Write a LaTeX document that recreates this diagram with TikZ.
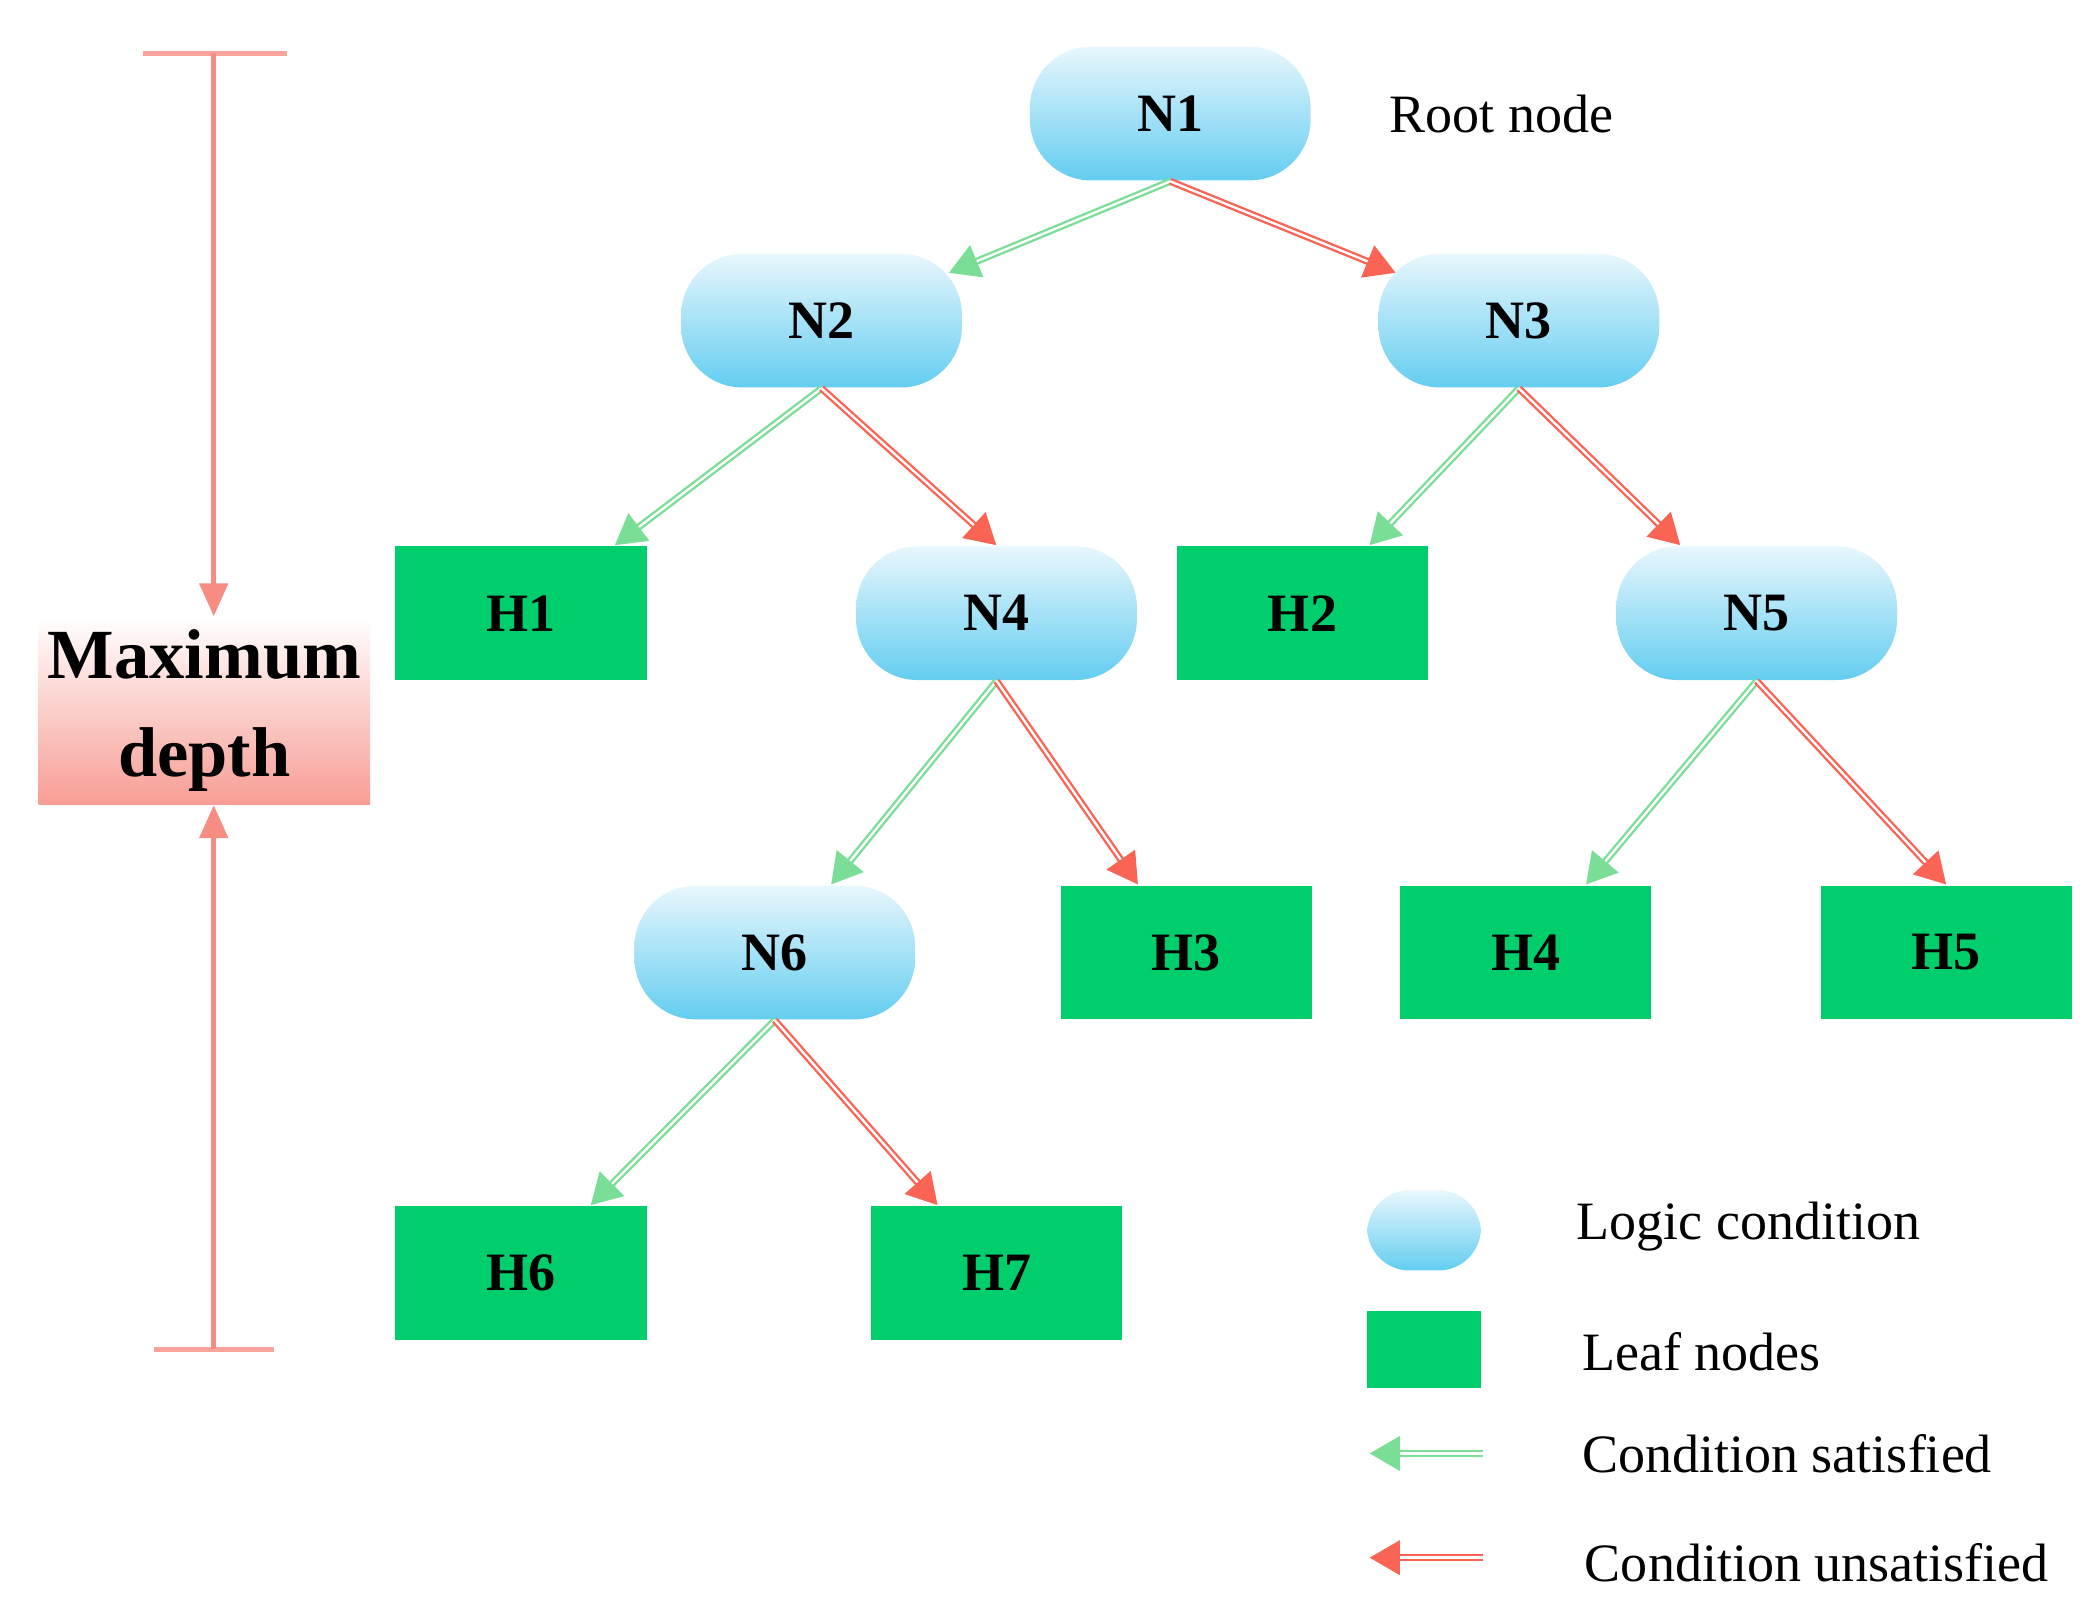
\documentclass[tikz,border=0pt]{standalone}
\usepackage{fontspec}
\setmainfont{Liberation Serif}
\usetikzlibrary{arrows.meta}
\definecolor{leaf}{RGB}{0,206,108}
\definecolor{skyb}{RGB}{100,205,240}
\definecolor{skyt}{RGB}{232,247,253}
\definecolor{gline}{RGB}{122,222,150}
\definecolor{rline}{RGB}{250,100,85}
\definecolor{depth}{RGB}{246,140,130}
\begin{document}
\begin{tikzpicture}[x=0.01cm,y=-0.01cm,
  cond/.style={rectangle,rounded corners=13pt,minimum width=2.1cm,minimum height=1cm,
    top color=skyt,bottom color=skyb,draw=none,font=\bfseries\fontsize{11.5}{14}\selectfont},
  leafn/.style={rectangle,minimum width=1.88cm,minimum height=1cm,fill=leaf,
    font=\bfseries\fontsize{11.5}{14}\selectfont},
  yes/.style={draw=gline,line width=1.5pt,-{Triangle[length=6.5pt,width=7pt]},
    postaction={draw=white,line width=0.5pt,-,shorten >=6.5pt}},
  no/.style={draw=rline,line width=1.5pt,-{Triangle[length=6.5pt,width=7pt]},
    postaction={draw=white,line width=0.5pt,-,shorten >=6.5pt}},
  lbl/.style={anchor=west,font=\fontsize{11.5}{14}\selectfont}]
\useasboundingbox (0,0) rectangle (1560,1200);
% tree nodes
\node[cond] (N1) at (876,85) {N1};
\node[cond] (N2) at (615,240) {N2};
\node[cond] (N3) at (1137,240) {N3};
\node[cond] (N4) at (746,459) {N4};
\node[cond] (N5) at (1315,459) {N5};
\node[cond] (N6) at (580,713) {N6};
\node[leafn] (H1) at (390,459) {H1};
\node[leafn] (H2) at (975,459) {H2};
\node[leafn] (H3) at (888,713) {H3};
\node[leafn] (H4) at (1142,713) {H4};
\node[leafn] (H5) at (1457,713) {H5};
\node[leafn] (H6) at (390,953) {H6};
\node[leafn] (H7) at (746,953) {H7};
\node[lbl] (root) at (1028,85) {Root node};
% edges
\draw[yes] (N1.south) -- ([xshift=0.95cm,yshift=-0.15cm]N2.north);
\draw[no] (N1.south) -- ([xshift=-0.92cm,yshift=-0.15cm]N3.north);
\draw[yes] (N2.south) -- ([xshift=0.7cm]H1.north);
\draw[no] (N2.south) -- (N4.north);
\draw[yes] (N3.south) -- ([xshift=0.5cm]H2.north);
\draw[no] (N3.south) -- ([xshift=-0.57cm]N5.north);
\draw[yes] (N4.south) -- ([xshift=0.42cm]N6.north);
\draw[no] (N4.south) -- ([xshift=-0.36cm]H3.north);
\draw[yes] (N5.south) -- ([xshift=0.45cm]H4.north);
\draw[no] (N5.south) -- (H5.north);
\draw[yes] (N6.south) -- ([xshift=0.52cm]H6.north);
\draw[no] (N6.south) -- ([xshift=-0.44cm]H7.north);
% maximum depth
\node[rectangle,minimum width=2.48cm,minimum height=1.4cm,inner sep=1pt,top color=white,bottom color=depth!85,
  align=center,font=\bfseries\fontsize{15}{21}\selectfont] (MD) at (153,532) {Maximum\\depth};
\coordinate (t1) at (107,40); \coordinate (t2) at (215,40); \coordinate (tm) at (160,40);
\coordinate (b1) at (115,1010); \coordinate (b2) at (205,1010); \coordinate (bm) at (160,1010);
\draw[depth!80,line width=1pt] (t1) -- (t2);
\draw[depth!80,line width=1pt] (b1) -- (b2);
\draw[depth,line width=1pt,-{Triangle[length=7pt,width=6pt]}] (tm) -- (MD.north -| tm);
\draw[depth,line width=1pt,-{Triangle[length=7pt,width=6pt]}] (bm) -- (MD.south -| bm);
% legend
\node[cond,minimum width=0.85cm,minimum height=0.6cm,rounded corners=9pt] (Lc) at (1066,921) {};
\node[leafn,minimum width=0.85cm,minimum height=0.58cm] (Ll) at (1066,1010) {};
\coordinate (g1) at (1110,1088); \coordinate (g2) at (1025,1088);
\coordinate (r1) at (1110,1166); \coordinate (r2) at (1025,1166);
\draw[yes] (g1) -- (g2);
\draw[no] (r1) -- (r2);
\node[lbl] at (1168,918) {Logic condition};
\node[lbl] at (1172,1012) {Leaf nodes};
\node[lbl] at (1172,1088) {Condition satisfied};
\node[lbl] at (1174,1170) {Condition unsatisfied};
\end{tikzpicture}
\end{document}
